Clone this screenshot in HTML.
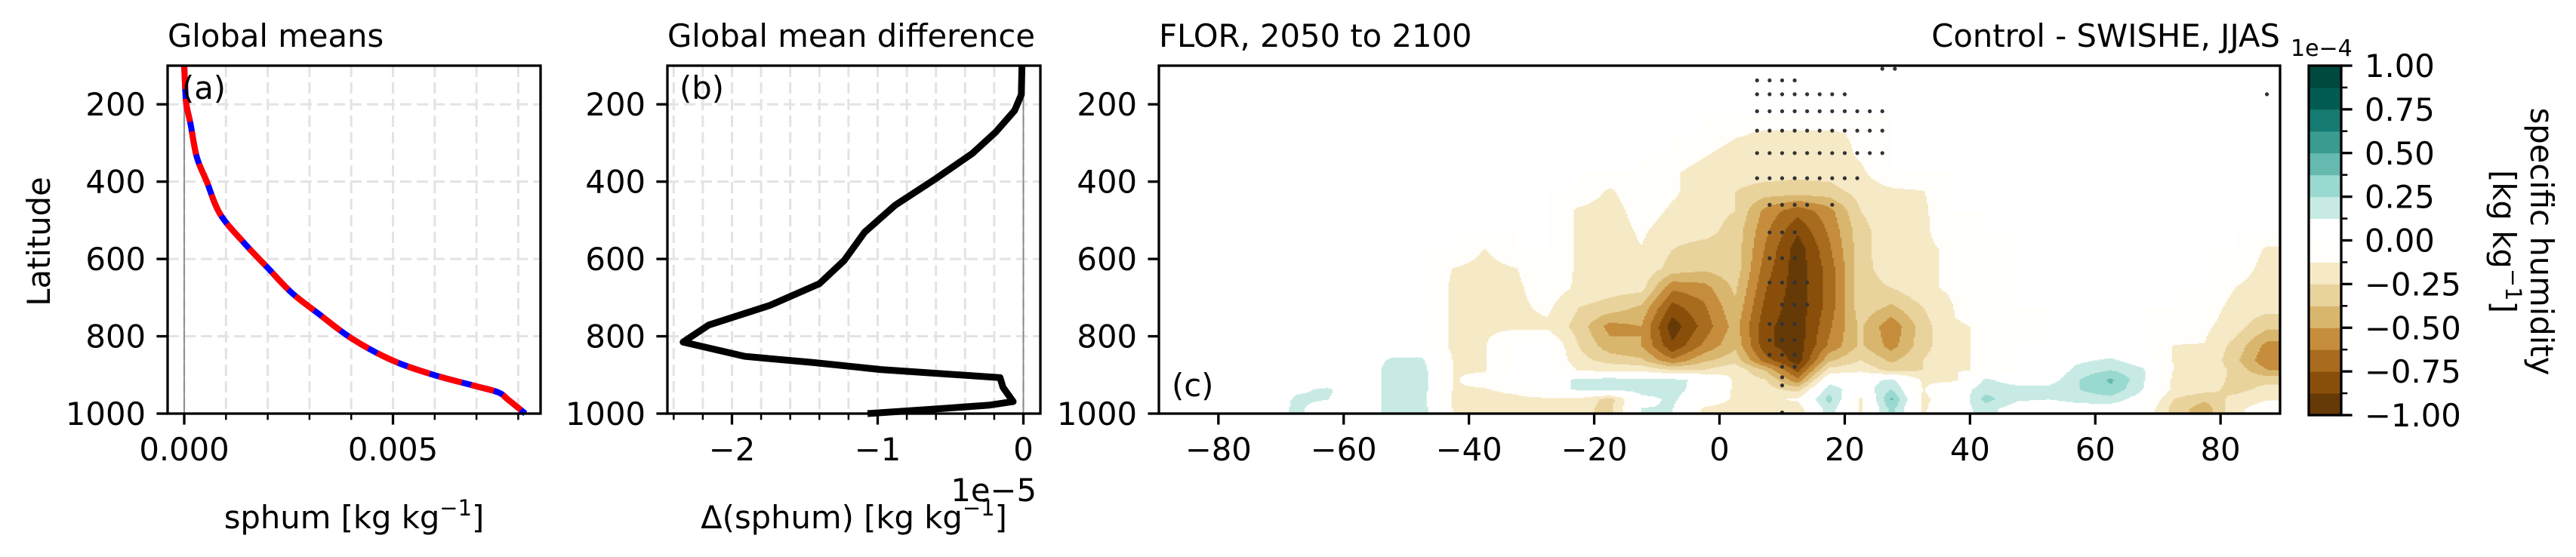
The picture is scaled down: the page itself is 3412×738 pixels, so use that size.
<!DOCTYPE html>
<html><head><meta charset="utf-8"><style>
html,body{margin:0;padding:0;background:#fff;}
svg{display:block;font-family:"DejaVu Sans","Liberation Sans",sans-serif;}
</style></head><body>
<svg id="fig" width="3412" height="738" viewBox="0 0 3412 738" xmlns="http://www.w3.org/2000/svg">
<rect x="0" y="0" width="3412" height="738" fill="#fff"/>
<g id="panelA"></g>
<g id="panelB"></g>
<g id="panelC"></g>
<g id="cbar"></g>
<g font-size="41.7" fill="#000">
<text x="222" y="62">Global means</text>
<text x="884" y="62">Global mean difference</text>
<text x="1535" y="62">FLOR, 2050 to 2100</text>
<text x="3020" y="62" text-anchor="end">Control - SWISHE, JJAS</text>
<text x="3034" y="74" font-size="30">1e−4</text>
<text x="241" y="131">(a)</text>
<text x="900" y="131">(b)</text>
<text x="1552" y="525">(c)</text>
<text transform="translate(66,320) rotate(-90)" text-anchor="middle">Latitude</text>
<text x="469" y="700" text-anchor="middle">sphum [kg kg<tspan dy="-17" font-size="29">−1</tspan><tspan dy="17">]</tspan></text>
<text x="1131" y="700" text-anchor="middle">Δ(sphum) [kg kg<tspan dy="-17" font-size="29">−1</tspan><tspan dy="17">]</tspan></text>
<text x="1373" y="664" text-anchor="end">1e−5</text>
<text transform="translate(3352,320) rotate(90)" text-anchor="middle">specific humidity</text>
<text transform="translate(3302,320) rotate(90)" text-anchor="middle">[kg kg<tspan dy="-17" font-size="29">−1</tspan><tspan dy="17">]</tspan></text>
</g>
</svg>
<script>
// ---------- Panel (a) data ----------
const aPres = [100,150,200,250,336,400,484,558,623,687,742,807,863,900,928,945,964,1000];
const aCtl = [0,0.00002,0.00005,0.00015,0.0003,0.00054,0.00086,0.00143,0.0020,0.00257,0.00322,0.00403,0.0050,0.00598,0.00695,0.00752,0.00776,0.00817];
const aSw = [0,0.00002,0.00005,0.00015,0.0003,0.00054,0.00086,0.00143,0.0020,0.00257,0.00322,0.00403,0.0050,0.00598,0.00695,0.00752,0.00776,0.00817];
const aXTicks = [0, 0.005];
const aXTickLabels = ["0.000","0.005"];
const aXMinor = [0.001,0.002,0.003,0.004,0.006,0.007,0.008];
const yTicks = [200,400,600,800,1000];
const yTickLabels = ["200","400","600","800","1000"];
// ---------- Panel (b) data ----------
const bPres = [100,175,216,272,327,392,461,531,604,664,720,771,815,852,868,886,907,932,969,978,988,1000];
const bDiff = [-0.01,-0.014,-0.06,-0.19,-0.35,-0.60,-0.88,-1.09,-1.23,-1.40,-1.74,-2.16,-2.335,-1.91,-1.44,-0.98,-0.16,-0.14,-0.07,-0.23,-0.60,-1.07];
const bXTicks = [-2,-1,0];
const bXTickLabels = ["−2","−1","0"];
const bXMinor = [-2.4,-2.2,-1.8,-1.6,-1.4,-1.2,-0.8,-0.6,-0.4,-0.2];
// ---------- Panel (c) data (values in 1e-5 kg/kg) ----------
const cLats = [-87.5,-82.5,-77.5,-72.5,-67.5,-62.5,-57.5,-52.5,-47.5,-42.5,-37.5,-32.5,-27.5,-22.5,-17.5,-12.5,-7.5,-2.5,2.5,7.5,12.5,17.5,22.5,27.5,32.5,37.5,42.5,47.5,52.5,57.5,62.5,67.5,72.5,77.5,82.5,87.5];
const cPres = [125,175,225,275,325,375,425,475,525,575,625,675,725,775,825,862.5,887.5,912.5,937.5,962.5,987.5];
const cRow0  = [0,0,0,0,0,0,0,0,0,0,0,0,0,0,0,0,0,0,0,0,0,0,0,0,0,0,0,0,0,0,0,0,0,0,0,0];
const cRow1  = [0,0,0,0,0,0,0,0,0,0,0,0,0,0,0,0,0,0,0,0,0,0,0,0,0,0,0,0,0,0,0,0,0,0,0,0];
const cRow2  = [0,0,0,0,0,0,0,0,0,0,0,0,0,0,0,0,0,0,0,0,0,0,0,0,0,0,0,0,0,0,0,0,0,0,0,0];
const cRow3  = [0,0,0,0,0,0,0,0,0,0,0,0,0,0,0,0,0,0,-1,-1.5,-1.5,-1.5,-1,0,0,0,0,0,0,0,0,0,0,0,0,0];
const cRow4  = [0,0,0,0,0,0,0,0,0,0,0,0,0,0,0,0,0,-1,-2,-2,-2,-2,-1,0,0,0,0,0,0,0,0,0,0,0,0,0];
const cRow5  = [0,0,0,0,0,0,0,0,0,0,0,0,0,0,0,0,-1,-2,-2,-2,-2.2,-2,-1.5,0,0,0,0,0,0,0,0,0,0,0,0,0];
const cRow6  = [0,0,0,0,0,0,0,0,0,0,0,0,0,0,-1.5,0,-1,-2,-2.5,-3,-3,-3,-2,-1.5,-1.3,0,0,0,0,0,0,0,0,0,0,0];
const cRow7  = [0,0,0,0,0,0,0,0,0,0,0,0,0,-1.5,-2,-0.5,-1.5,-2,-2.5,-5.5,-7,-5.5,-2.5,-1.5,-1.5,0,0,0,0,0,0,0,0,0,0,0];
const cRow8  = [0,0,0,0,0,0,0,0,0,0,0,0,0,-1.5,-2,-1,-2,-2,-3,-6,-8.5,-6,-3,-1.5,-1.5,-0.3,0,0,0,0,0,0,0,0,0,0];
const cRow9  = [0,0,0,0,0,0,0,0,0,0,-1.3,0,0,-1.5,-2,-1.3,-2.5,-3,-3,-6.5,-9.5,-6.5,-3,-1.5,-1.5,-1,-0.5,0,0,0,0,0,0,0,0,-1.5];
const cRow10 = [0,0,0,0,0,0,0,0,0,-1.3,-1.8,-1.3,0,-1.5,-2,-1.5,-3,-3.5,-3,-7,-9.5,-7,-3,-1.8,-1.5,-1,-0.8,0,0,0,0,0,0,0,-0.5,-1.8];
const cRow11 = [0,0,0,0,0,0,0,0,0,-1.5,-1.8,-1.5,-0.5,-1.5,-2,-2,-6,-5.5,-3.5,-7.5,-9.5,-7,-3,-2.5,-1.5,-1,-1,0,0,0,0,0,0,0,-1.3,-2];
const cRow12 = [0,0,0,0,0,0,0,0,0,-1.5,-1.8,-1.5,-1,-2.5,-3,-4,-8,-6.5,-4,-8,-9.5,-7,-3,-4,-2.5,-1.2,-1,0,0,0,0,0,0,-0.5,-1.8,-2];
const cRow13 = [0,0,0,0,0,0,0,0,0,-1.5,-1.5,-1.5,-1.5,-3,-5.5,-5,-9.5,-7,-4.5,-8.5,-9.5,-6.5,-3.5,-6,-3,-1.3,-1.2,-0.3,0,0,0,0,-0.5,-1,-2,-3.5];
const cRow14 = [0,0,0,0,0,0,0,0,0,-1.5,-1.3,0.3,0.3,-2.5,-4.5,-5,-8.5,-6,-4,-8.5,-9.5,-6,-3.5,-5.5,-3,-1.3,-1.2,0,0,0,0,0,-1.3,-1.3,-3,-5.5];
const cRow15 = [0,0,0,0,0,0,0,1.5,1.5,-1.3,-1.3,0.3,0.3,-2,-3,-3.5,-6,-4,-3,-7,-9.5,-4,-2.5,-4,-2.5,-1.3,-1.2,0,0,1,1.5,0.5,-1.3,-1.3,-3.5,-6];
const cRow16 = [0,0,0,0,0,0,0,1.8,1.8,-1.3,-1.3,0.3,0.5,-1.3,-1.5,-1.5,-2.5,-2.5,-1.5,-4,-8,-2,-1.5,-3,-2.5,-1.3,-1.2,0,0,1.8,2.5,1.5,-1.3,-1.3,-3,-5];
const cRow17 = [0,0,0,0,0,0,0,1.8,1.8,-1.3,-1,0.5,0.5,1.5,1.8,1.5,1.5,1,-1.5,-2.5,-6,0.5,0.5,1.5,-1.5,-1.5,1.5,0.5,0.5,2.5,4,1.5,-1.5,-1.5,-3,-3];
const cRow18 = [0,0,0,0,1,1.5,0,1.8,1.8,-1.3,-1.3,-1,0.5,1.5,1.5,1.8,1.8,0.5,-1.5,-2,-3,2,0.3,2.5,-1.3,0.3,2,1.8,1.8,2.5,3.5,1.3,-1.5,-2,-3,-2];
const cRow19 = [0,0,0,0,1.5,1.3,0,1.8,1.8,-1.5,-1.5,-1.5,-1.5,-1.5,-3,0.8,1.5,0,-1.5,-1.5,-1,3,-1.5,4,-1.5,-0.5,3,1.5,1.3,1.8,2,0.5,-2.5,-3.5,-2,-1.3];
const cRow20 = [0,0,0,0.5,1.5,0.5,0,1.8,1.8,-1.3,-2,-2.5,-2.5,-2,-3,1.3,1.3,-1.5,-2,-2,-2,2,-1.5,3,-1.5,0.5,1.8,0.5,0,0.5,0.5,0,-3,-4.5,-1.5,-0.5];
const cField = [cRow0,cRow1,cRow2,cRow3,cRow4,cRow5,cRow6,cRow7,cRow8,cRow9,cRow10,cRow11,cRow12,cRow13,cRow14,cRow15,cRow16,cRow17,cRow18,cRow19,cRow20];
const cXTicks = [-80,-60,-40,-20,0,20,40,60,80];
const cXTickLabels = ["−80","−60","−40","−20","0","20","40","60","80"];
const stipP = [108,138,174,218,268,326,391,460,531,598,661,718,768,810,848,879,906,927,997,174];
const stipLats = [[26,28],[6,8,10,12],[6,8,10,12,14,16,18,20],[6,8,10,12,14,16,18,20,22,24,26],[6,8,10,12,14,16,18,20,22,24,26],[6,8,10,12,14,16,18,20,22,24,26],[6,8,10,12,14,16,18,20,22],[8,10,12,14,18],[8,10,12],[8,10,12],[8,10,12,14],[10,12,14],[8,10,12],[8,10,12],[8,10,12],[10,12],[10],[10],[10],[87.4]];
// ---------- colorbar ----------
const cbLevels = [-1,-0.875,-0.75,-0.625,-0.5,-0.375,-0.25,-0.125,0,0.125,0.25,0.375,0.5,0.625,0.75,0.875,1];
const cbColors = ['#663a07','#894f0a','#a96c1e','#c58d3c','#d9b66e','#e9d39c','#f6e9c6','#fffefb','#ffffff','#c8eae4','#9ad9d0','#65b9ae','#3a9b91','#167b73','#025c54','#00493e'];
const cbTicks = [-1,-0.75,-0.5,-0.25,0,0.25,0.5,0.75,1];
const cbTickLabels = ["−1.00","−0.75","−0.50","−0.25","0.00","0.25","0.50","0.75","1.00"];

const NS='http://www.w3.org/2000/svg';
function mk(tag, attrs, parent){const e=document.createElementNS(NS,tag);for(const k in attrs)e.setAttribute(k,attrs[k]);parent.appendChild(e);return e;}

const TOP=87, BOT=548;
function yP(p){return TOP+(p-100)*(BOT-TOP)/900;}
const A={x0:222,x1:716,xmin:-0.000398,xmax:0.008535};
const B={x0:884,x1:1378,xmin:-2.443,xmax:0.1166};
const C={x0:1535,x1:3020,xmin:-89.5,xmax:89.5};
function sx(ax,v){return ax.x0+(v-ax.xmin)/(ax.xmax-ax.xmin)*(ax.x1-ax.x0);}

function drawYTicks(g, x0, name){
  yTicks.forEach((p,i)=>{
    const t=mk('line',{x1:x0-14.6,x2:x0,y1:yP(p),y2:yP(p),stroke:'#000','stroke-width':3.3},g);
    
    
    const l=mk('text',{x:x0-29,y:yP(p)+15,'text-anchor':'end','font-size':41.7},g);
    l.textContent=yTickLabels[i];
    
    
  });
}
function drawXTicks(g, ax, ticks, labels, minor, name){
  ticks.forEach((v,i)=>{
    const x=sx(ax,v);
    const t=mk('line',{x1:x,x2:x,y1:BOT,y2:BOT+14.6,stroke:'#000','stroke-width':3.3},g);
    
    
    const l=mk('text',{x:x,y:610,'text-anchor':'middle','font-size':41.7},g);
    l.textContent=labels[i];
    
    
  });
  (minor||[]).forEach(v=>{
    const x=sx(ax,v);
    const t=mk('line',{x1:x,x2:x,y1:BOT,y2:BOT+8.3,stroke:'#000','stroke-width':2.5},g);
    
    
  });
}
function drawGrid(g, ax, xs){
  xs.forEach(v=>{
    const x=sx(ax,v);
    const l=mk('line',{x1:x,x2:x,y1:TOP,y2:BOT,stroke:'#e3e3e3','stroke-width':3,'stroke-dasharray':'15 7'},g);
    
    
  });
  yTicks.slice(0,4).forEach(p=>{
    const l=mk('line',{x1:ax.x0,x2:ax.x1,y1:yP(p),y2:yP(p),stroke:'#e3e3e3','stroke-width':3,'stroke-dasharray':'15 7'},g);
    
    
  });
}
function pathFrom(ax, xs, ps){return xs.map((v,i)=>(i?'L':'M')+sx(ax,v).toFixed(1)+','+yP(ps[i]).toFixed(1)).join(' ');}
function smoothPath(ax, xs, ps){
  const P=xs.map((v,i)=>[sx(ax,v),yP(ps[i])]);
  let d='M'+P[0][0].toFixed(1)+','+P[0][1].toFixed(1);
  for(let i=0;i<P.length-1;i++){
    const p0=P[Math.max(0,i-1)],p1=P[i],p2=P[i+1],p3=P[Math.min(P.length-1,i+2)];
    const c1=[p1[0]+(p2[0]-p0[0])/6,p1[1]+(p2[1]-p0[1])/6];
    const c2=[p2[0]-(p3[0]-p1[0])/6,p2[1]-(p3[1]-p1[1])/6];
    d+=' C'+c1[0].toFixed(1)+','+c1[1].toFixed(1)+' '+c2[0].toFixed(1)+','+c2[1].toFixed(1)+' '+p2[0].toFixed(1)+','+p2[1].toFixed(1);
  }
  return d;
}

// ---- Panel A ----
(function(){
  const g=document.getElementById('panelA');
  drawGrid(g, A, aXTicks.concat(aXMinor));
  const z=mk('line',{x1:sx(A,0),x2:sx(A,0),y1:TOP,y2:BOT,stroke:'#888','stroke-width':1.8},g);
  
  
  const l1=mk('path',{d:smoothPath(A,aSw,aPres),fill:'none',stroke:'#0000ff','stroke-width':8,'stroke-linejoin':'round'},g);
  
  
  const l2=mk('path',{d:smoothPath(A,aCtl,aPres),fill:'none',stroke:'#ff0000','stroke-width':8,'stroke-dasharray':'31 13'},g);
  
  
  const f=mk('rect',{x:A.x0,y:TOP,width:A.x1-A.x0,height:BOT-TOP,fill:'none',stroke:'#000','stroke-width':3.3},g);
  
  
  drawYTicks(g, A.x0, 'panel-a');
  drawXTicks(g, A, aXTicks, aXTickLabels, aXMinor, 'panel-a');
})();

// ---- Panel B ----
(function(){
  const g=document.getElementById('panelB');
  drawGrid(g, B, bXTicks.concat(bXMinor));
  const z=mk('line',{x1:sx(B,0),x2:sx(B,0),y1:TOP,y2:BOT,stroke:'#888','stroke-width':1.8},g);
  
  
  const l=mk('path',{d:pathFrom(B,bDiff,bPres),fill:'none',stroke:'#000','stroke-width':9,'stroke-linejoin':'round'},g);
  
  
  const f=mk('rect',{x:B.x0,y:TOP,width:B.x1-B.x0,height:BOT-TOP,fill:'none',stroke:'#000','stroke-width':3.3},g);
  
  
  drawYTicks(g, B.x0, 'panel-b');
  drawXTicks(g, B, bXTicks, bXTickLabels, bXMinor, 'panel-b');
})();

// ---- Panel C ----
function binColor(v){let b=Math.floor((v/10-cbLevels[0])/(cbLevels[1]-cbLevels[0]));if(b<0)b=0;if(b>15)b=15;return cbColors[b];}
function locate(arr,v){
  if(v<=arr[0])return [0,0,0];
  if(v>=arr[arr.length-1])return [arr.length-1,arr.length-1,0];
  for(let i=0;i<arr.length-1;i++){if(v>=arr[i]&&v<=arr[i+1])return [i,i+1,(v-arr[i])/(arr[i+1]-arr[i])];}
  return [0,0,0];
}
function sample(lat,p){
  const [i0,i1,fx]=locate(cLats,lat);
  const [j0,j1,fy]=locate(cPres,p);
  const a=cField[j0][i0]*(1-fx)+cField[j0][i1]*fx;
  const b=cField[j1][i0]*(1-fx)+cField[j1][i1]*fx;
  return a*(1-fy)+b*fy;
}
(function(){
  const g=document.getElementById('panelC');
  const bg=mk('rect',{x:C.x0,y:TOP,width:C.x1-C.x0,height:BOT-TOP,fill:'#fffefb'},g);
  
  
  const cg=mk('g',{},g);
  
  
  const dLat=0.25, dP=2.5;
  const nLat=Math.round((C.xmax-C.xmin)/dLat);
  for(let p0=100;p0<1000;p0+=dP){
    const pc=p0+dP/2;
    let runStart=0, runCol=null;
    for(let k=0;k<=nLat;k++){
      const la=C.xmin+k*dLat;
      const end = k===nLat;
      const col = end?null:binColor(sample(la+dLat/2,pc));
      if(col!==runCol){
        if(runCol!==null && runCol!=='#fffefb'){
          const x0=sx(C,C.xmin+runStart*dLat), x1=sx(C,la);
          const r=mk('rect',{x:x0.toFixed(1),y:yP(p0).toFixed(1),width:(x1-x0+0.6).toFixed(1),height:(yP(p0+dP)-yP(p0)+0.6).toFixed(2),fill:runCol},cg);
          
          
        }
        runCol=col; runStart=k;
      }
    }
  }
  const sg=mk('g',{fill:'#333'},g);
  
  
  stipP.forEach((p,i)=>{
    stipLats[i].forEach(la=>{
      const d=mk('circle',{cx:sx(C,la).toFixed(1),cy:yP(p).toFixed(1),r:2.6},sg);
      
      
    });
  });
  const f=mk('rect',{x:C.x0,y:TOP,width:C.x1-C.x0,height:BOT-TOP,fill:'none',stroke:'#000','stroke-width':3.3},g);
  
  
  drawYTicks(g, C.x0, 'panel-c');
  drawXTicks(g, C, cXTicks, cXTickLabels, null, 'panel-c');
})();

// ---- Colorbar ----
(function(){
  const g=document.getElementById('cbar');
  const X0=3058, X1=3101, T=87, Bt=550;
  const yv=v=>T+(1-v)/2*(Bt-T);
  for(let k=0;k<cbColors.length;k++){
    const r=mk('rect',{x:X0,y:yv(cbLevels[k+1]).toFixed(1),width:X1-X0,height:(yv(cbLevels[k])-yv(cbLevels[k+1])+0.5).toFixed(1),fill:cbColors[k]},g);
    
    
  }
  const f=mk('rect',{x:X0,y:T,width:X1-X0,height:Bt-T,fill:'none',stroke:'#000','stroke-width':3.3},g);
  
  
  cbLevels.forEach(v=>{
    const t=mk('line',{x1:X1,x2:X1+8.3,y1:yv(v),y2:yv(v),stroke:'#000','stroke-width':2.5},g);
    
    
  });
  cbTicks.forEach((v,i)=>{
    const t=mk('line',{x1:X1,x2:X1+14.6,y1:yv(v),y2:yv(v),stroke:'#000','stroke-width':3.3},g);
    
    
    const l=mk('text',{x:3132,y:yv(v)+15,'font-size':41.7},g);
    l.textContent=cbTickLabels[i];
    
    
  });
})();
</script>
</body></html>
